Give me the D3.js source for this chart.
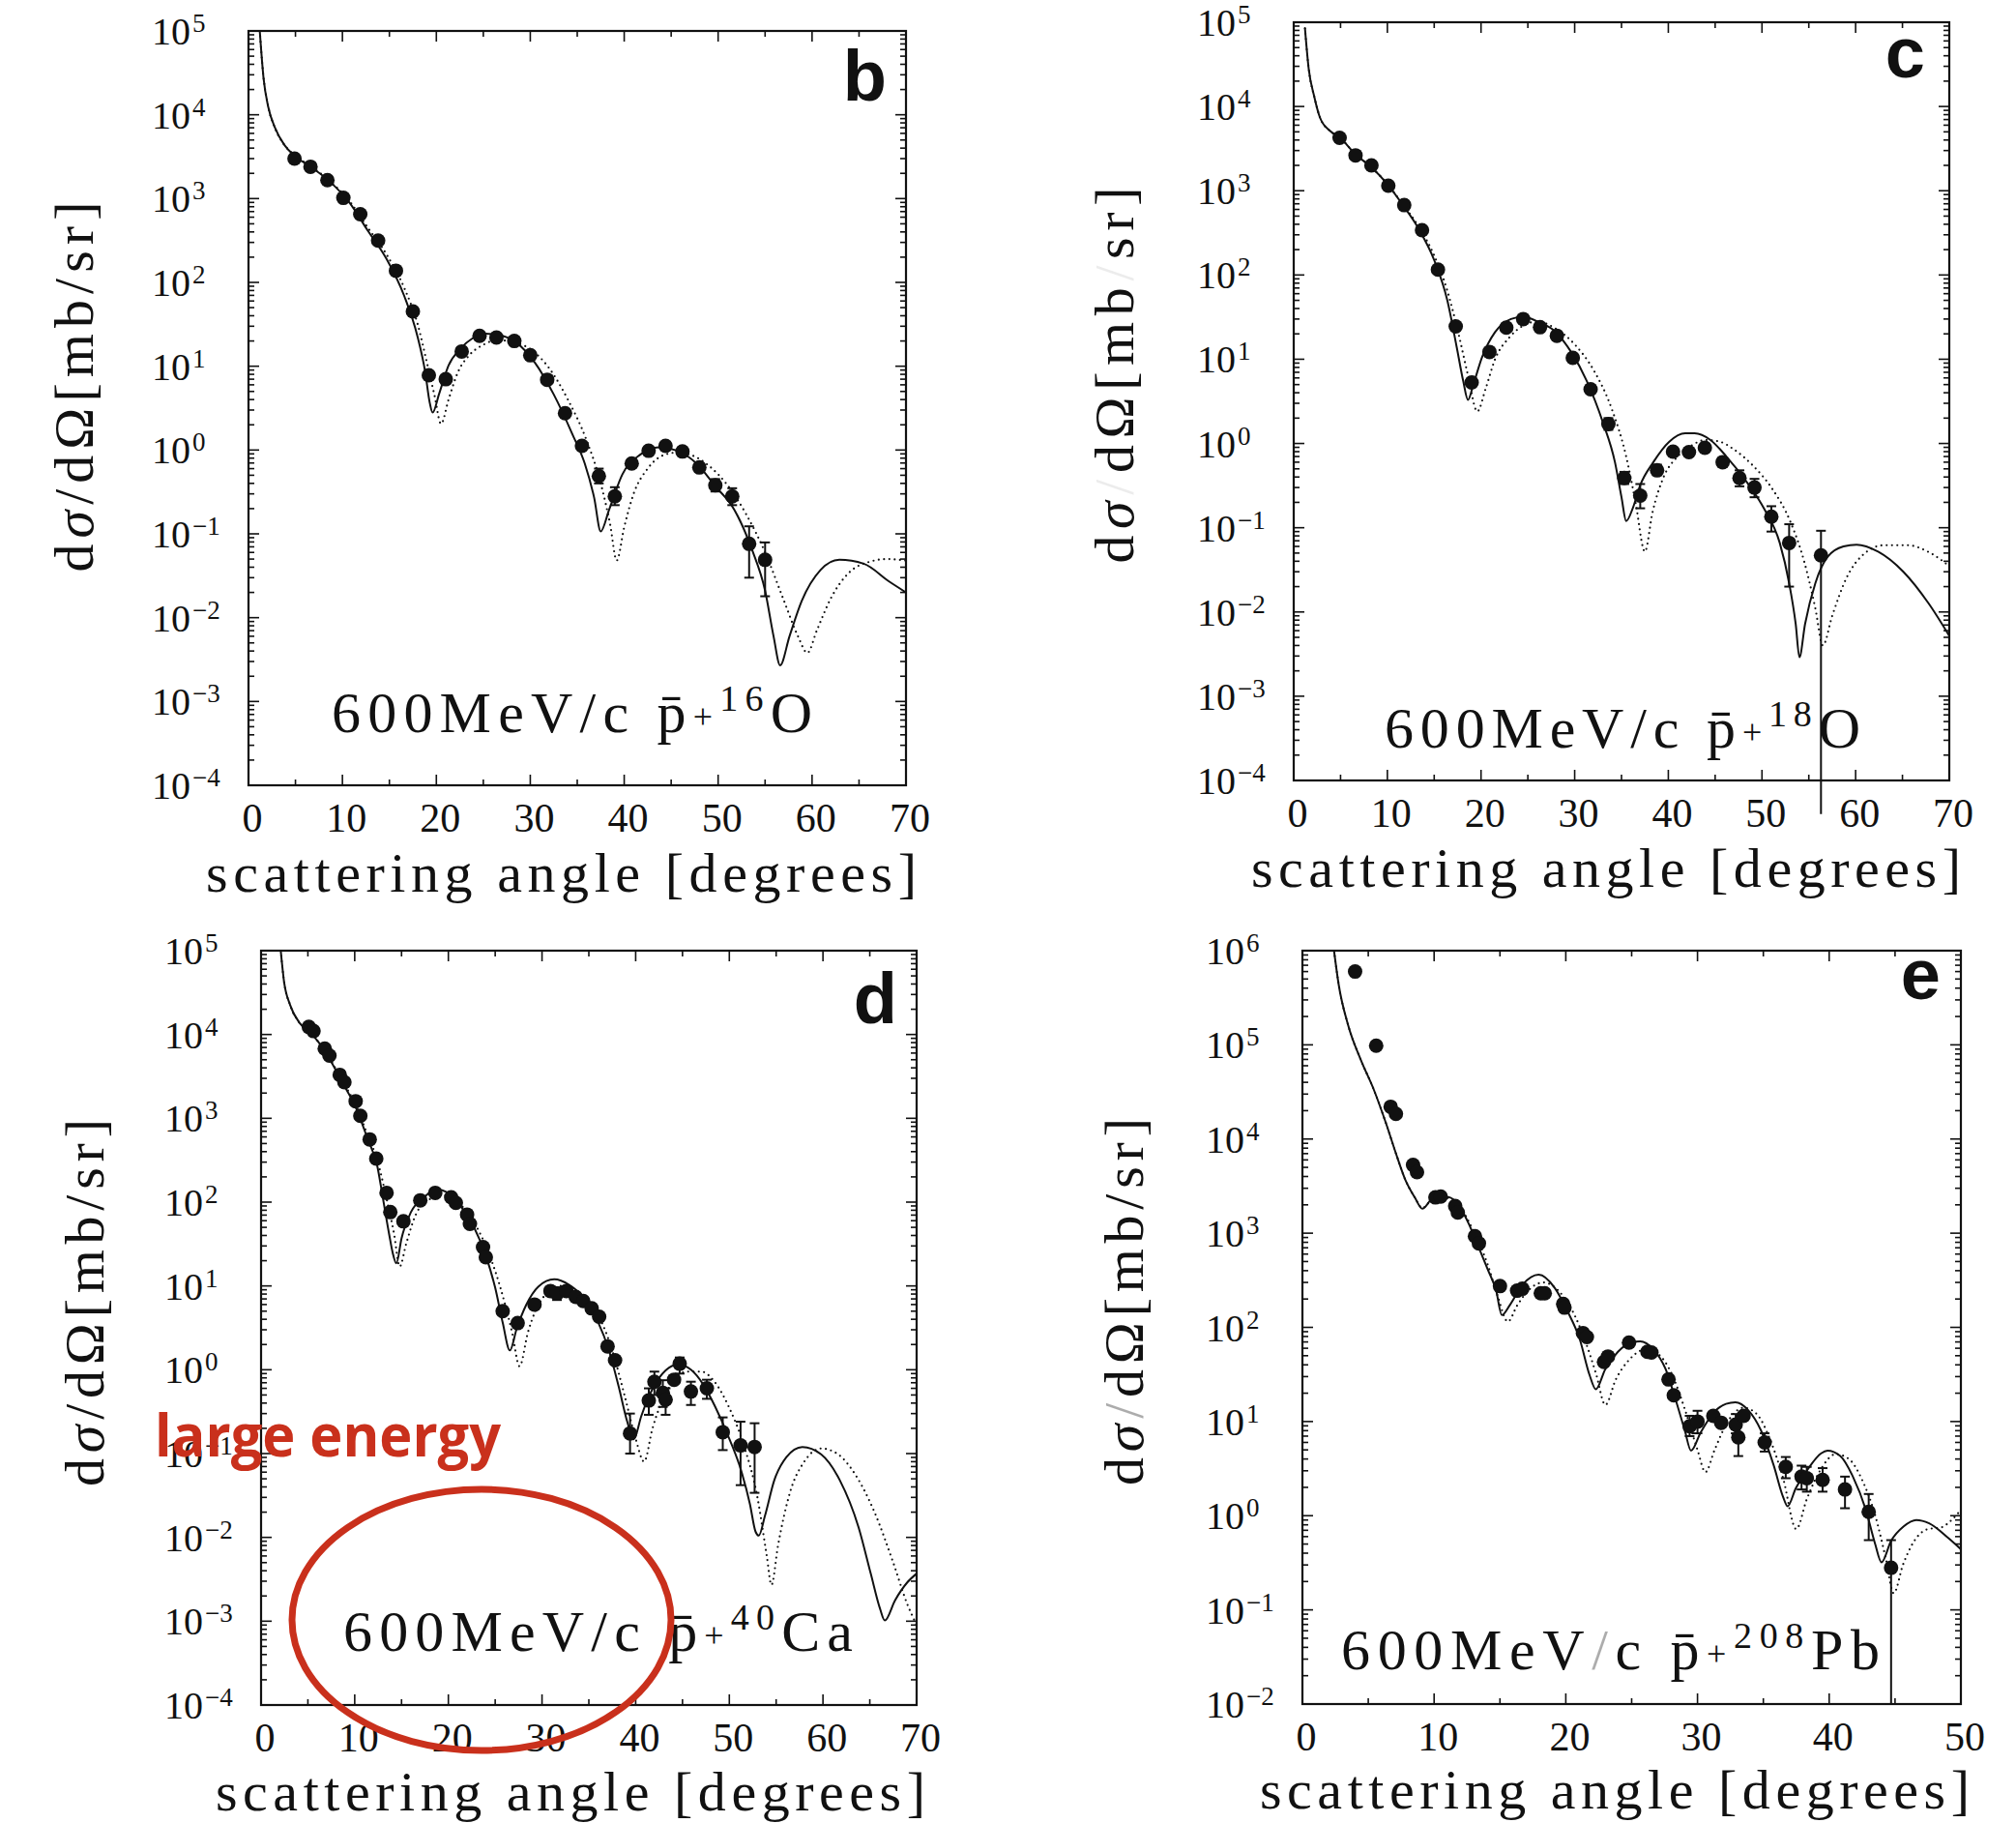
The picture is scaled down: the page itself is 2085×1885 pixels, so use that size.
<!DOCTYPE html>
<html>
<head>
<meta charset="utf-8">
<script src="https://cdn.jsdelivr.net/npm/d3@7"></script>
<style>
  body { margin: 0; background: #fff; }
  svg { display: block; }
</style>
</head>
<body>
<svg id="fig" width="2085" height="1885"></svg>
<script>
// ---------- panel b : 600 MeV/c  pbar + 16O ----------
const bAngle = [4.9, 6.6, 8.4, 10.1, 11.9, 13.8, 15.7, 17.5, 19.2, 21.0, 22.7, 24.6, 26.4, 28.3, 30.0, 31.8, 33.7, 35.5, 37.3, 39.0, 40.8, 42.6, 44.4, 46.2, 48.0, 49.7, 51.5, 53.3, 55.0];
const bValue = [3000, 2400, 1660, 1020, 650, 316, 138, 45, 7.8, 7.0, 15, 23, 22, 20, 13.5, 6.9, 2.75, 1.12, 0.49, 0.28, 0.69, 0.98, 1.12, 0.96, 0.62, 0.38, 0.28, 0.076, 0.049];
const bErrAngle = [37.3, 39.0, 49.7, 51.5, 53.3, 55.0];
const bErrLo = [0.40, 0.22, 0.32, 0.22, 0.030, 0.018];
const bErrHi = [0.60, 0.36, 0.45, 0.35, 0.123, 0.079];
const bSolidAngle = [1.2, 1.6, 2.1, 2.8, 3.8, 4.9, 6.7, 8.7, 10.7, 12.7, 14.7, 16.6, 18.0, 18.8, 19.3, 19.6, 20.3, 21.3, 22.6, 23.9, 25.2, 26.6, 28.5, 30.5, 32.5, 34.5, 35.8, 36.8, 37.5, 38.4, 39.8, 41.7, 43.7, 45.7, 47.7, 49.7, 51.7, 53.6, 55.0, 55.9, 56.6, 57.6, 58.9, 60.9, 62.9, 65.5, 68.2, 70];
const bSolidValue = [1e5, 2.75e4, 1.24e4, 7.1e3, 4.4e3, 3.25e3, 2.36e3, 1.58e3, 910, 415, 190, 68, 22.5, 8.7, 3.65, 2.8, 4.7, 10.2, 16.3, 21.7, 24.5, 23.7, 19.2, 11, 4.6, 1.53, 0.69, 0.27, 0.107, 0.195, 0.51, 0.88, 1.08, 0.98, 0.69, 0.37, 0.196, 0.065, 0.021, 0.006, 0.0027, 0.006, 0.0158, 0.037, 0.049, 0.044, 0.027, 0.020];
const bDotAngle = [1.2, 1.6, 2.1, 2.8, 3.8, 4.9, 6.7, 8.7, 10.7, 12.7, 14.7, 16.6, 18.0, 19.0, 19.8, 20.5, 21.3, 22.3, 23.5, 25.0, 26.5, 28.0, 30.0, 32.0, 34.0, 36.0, 37.5, 38.5, 39.2, 40.0, 41.0, 42.5, 44.0, 45.5, 47.0, 49.0, 51.0, 53.0, 55.0, 57.0, 58.5, 59.5, 60.5, 62.0, 64.0, 66.0, 68.0, 70.0];
const bDotValue = [1e5, 2.8e4, 1.25e4, 7e3, 4.4e3, 3.3e3, 2.4e3, 1.6e3, 950, 450, 215, 85, 32, 11, 4.5, 2.05, 4, 8.5, 13.5, 18, 20.5, 19.5, 16, 9.5, 4, 1.3, 0.4, 0.13, 0.048, 0.12, 0.3, 0.6, 0.85, 0.93, 0.88, 0.65, 0.38, 0.17, 0.06, 0.016, 0.006, 0.0038, 0.007, 0.017, 0.035, 0.046, 0.05, 0.048];

// ---------- panel c : 600 MeV/c  pbar + 18O ----------
const cAngle = [4.9, 6.6, 8.3, 10.1, 11.8, 13.7, 15.4, 17.3, 19.0, 20.9, 22.7, 24.5, 26.3, 28.1, 29.8, 31.7, 33.6, 35.3, 37.0, 38.8, 40.5, 42.2, 43.9, 45.8, 47.6, 49.2, 51.0, 52.9, 56.3];
const cValue = [4250, 2630, 2000, 1150, 675, 340, 116, 24.5, 5.3, 12.2, 23.7, 30, 24, 19, 10.4, 4.4, 1.7, 0.39, 0.24, 0.48, 0.8, 0.79, 0.89, 0.60, 0.39, 0.30, 0.135, 0.066, 0.047];
const cErrAngle = [33.6, 35.3, 37.0, 38.8, 45.8, 47.6, 49.2, 51.0, 52.9, 56.3];
const cErrLo = [1.45, 0.33, 0.17, 0.42, 0.53, 0.31, 0.23, 0.09, 0.02, 4e-5];
const cErrHi = [2.0, 0.46, 0.33, 0.56, 0.68, 0.48, 0.38, 0.18, 0.11, 0.092];
const cSolidAngle = [1.2, 1.6, 2.2, 2.8, 3.9, 4.9, 6.6, 8.3, 10.0, 11.6, 13.3, 15.0, 16.4, 17.4, 18.1, 18.6, 19.2, 20.1, 21.5, 23.2, 24.5, 26.2, 27.9, 29.6, 31.3, 33.0, 34.3, 35.0, 35.5, 36.2, 37.0, 38.4, 40.1, 41.8, 42.8, 44.5, 46.2, 48.2, 50.2, 51.9, 52.9, 53.6, 54.0, 54.6, 55.7, 57.0, 58.7, 60.1, 62.4, 65.1, 67.8, 70];
const cSolidValue = [8.5e4, 2.8e4, 1.3e4, 7.4e3, 5.1e3, 4.3e3, 2.7e3, 1.9e3, 1.2e3, 690, 360, 150, 50, 14, 5.5, 3.3, 5.1, 10.5, 21, 30, 32, 27.5, 21.4, 12.3, 5.5, 1.8, 0.6, 0.23, 0.12, 0.17, 0.32, 0.6, 1.05, 1.32, 1.32, 1.1, 0.7, 0.37, 0.17, 0.066, 0.022, 0.0072, 0.0029, 0.0072, 0.022, 0.045, 0.06, 0.063, 0.052, 0.03, 0.0126, 0.0052];
const cDotAngle = [1.2, 1.6, 2.2, 2.8, 3.9, 4.9, 6.6, 8.3, 10.0, 11.6, 13.3, 15.0, 16.4, 17.6, 18.6, 19.6, 20.5, 21.5, 23.0, 24.5, 26.0, 28.0, 30.0, 32.0, 34.0, 35.5, 36.5, 37.5, 38.3, 39.5, 41.0, 42.5, 44.0, 45.5, 47.0, 49.0, 51.0, 53.0, 54.5, 55.7, 56.5, 57.5, 59.0, 61.0, 63.0, 65.5, 68.0, 70];
const cDotValue = [8.5e4, 2.8e4, 1.3e4, 7.4e3, 5.1e3, 4.3e3, 2.7e3, 1.9e3, 1.2e3, 700, 380, 170, 65, 20, 6.5, 2.4, 4.5, 10, 18, 25, 28, 23, 15, 7.5, 2.5, 0.7, 0.2, 0.052, 0.15, 0.4, 0.7, 0.95, 1.1, 1.05, 0.85, 0.55, 0.3, 0.12, 0.04, 0.011, 0.004, 0.009, 0.025, 0.05, 0.062, 0.062, 0.05, 0.035];

// ---------- panel d : 600 MeV/c  pbar + 40Ca ----------
const dAngle = [5.1, 5.6, 6.8, 7.3, 8.4, 8.9, 10.1, 10.6, 11.6, 12.3, 13.4, 13.8, 15.2, 17.0, 18.6, 20.3, 20.8, 22.0, 22.3, 23.7, 24.0, 25.8, 27.4, 29.2, 30.9, 31.6, 32.6, 33.6, 34.4, 35.3, 36.1, 37.0, 37.8, 39.4, 41.4, 42.0, 42.9, 43.2, 44.1, 44.7, 45.9, 47.6, 49.3, 51.2, 52.7];
const dValue = [12300, 11000, 6800, 5600, 3300, 2700, 1600, 1070, 560, 330, 129, 76, 59, 105, 129, 114, 98, 71, 55, 29, 22, 5.0, 3.6, 6.0, 8.7, 8.1, 8.7, 7.4, 6.6, 5.4, 4.3, 1.9, 1.3, 0.174, 0.43, 0.72, 0.53, 0.44, 0.76, 1.18, 0.55, 0.60, 0.18, 0.125, 0.12];
const dErrAngle = [31.6, 39.4, 41.4, 42.0, 42.9, 43.2, 44.7, 45.9, 47.6, 49.3, 51.2, 52.7];
const dErrLo = [6.8, 0.10, 0.29, 0.50, 0.36, 0.29, 0.90, 0.38, 0.45, 0.11, 0.042, 0.034];
const dErrHi = [9.6, 0.30, 0.60, 0.95, 0.75, 0.60, 1.40, 0.72, 0.76, 0.27, 0.24, 0.23];
const dSolidAngle = [2.1, 2.45, 3.1, 4.1, 5.1, 6.1, 7.4, 8.75, 10.1, 11.4, 12.4, 13.05, 13.7, 14.05, 14.45, 15.0, 16.0, 17.4, 18.7, 20.0, 21.3, 22.7, 24.0, 25.0, 25.8, 26.57, 27.3, 28.3, 29.6, 31.3, 32.9, 34.6, 35.9, 37.2, 38.2, 39.1, 39.8, 40.6, 41.9, 43.2, 44.5, 45.9, 47.2, 48.5, 49.8, 51.2, 52.2, 52.8, 53.15, 53.8, 54.8, 56.1, 57.8, 59.8, 61.8, 63.8, 65.1, 66.1, 66.6, 67.7, 69.0, 70.0];
const dSolidValue = [1e5, 4.3e4, 2.25e4, 1.38e4, 1.1e4, 8.2e3, 4.9e3, 2.6e3, 1.36e3, 560, 273, 105, 40, 25, 18.6, 37, 76, 114, 141, 129, 90, 51, 23, 9.5, 3.65, 1.7, 3.1, 5.9, 9.8, 12, 10.3, 6.9, 3.9, 1.63, 0.62, 0.24, 0.148, 0.28, 0.62, 0.98, 1.15, 1.0, 0.67, 0.36, 0.17, 0.066, 0.025, 0.0117, 0.0105, 0.018, 0.048, 0.091, 0.12, 0.098, 0.048, 0.0132, 0.0037, 0.0014, 0.00102, 0.00178, 0.0029, 0.0037];
const dDotAngle = [2.1, 2.45, 3.1, 4.1, 5.1, 6.1, 7.4, 8.75, 10.1, 11.4, 12.4, 13.4, 14.2, 14.8, 15.5, 16.5, 18.0, 19.5, 21.0, 22.5, 24.0, 25.5, 26.8, 27.6, 28.5, 30.0, 32.0, 34.0, 36.0, 37.5, 38.8, 40.0, 40.9, 41.8, 43.5, 45.5, 47.0, 48.5, 50.0, 51.5, 53.0, 54.0, 54.5, 55.2, 56.5, 58.0, 59.8, 61.5, 63.5, 65.5, 67.5, 69.0, 70.0];
const dDotValue = [1e5, 4.3e4, 2.25e4, 1.38e4, 1.1e4, 8.2e3, 5e3, 2.7e3, 1.45e3, 620, 320, 110, 42, 17, 32, 70, 108, 120, 100, 63, 30, 10, 2.8, 1.1, 2.8, 7, 10, 8, 4.5, 1.7, 0.5, 0.15, 0.08, 0.2, 0.6, 0.95, 0.95, 0.7, 0.35, 0.13, 0.03, 0.006, 0.0027, 0.008, 0.035, 0.08, 0.115, 0.1, 0.055, 0.02, 0.005, 0.0016, 0.0009];

// ---------- panel e : 600 MeV/c  pbar + 208Pb ----------
const eAngle = [4.0, 5.6, 6.7, 7.1, 8.4, 8.7, 10.1, 10.5, 11.6, 11.8, 13.1, 13.4, 15.0, 16.3, 16.7, 18.1, 18.4, 19.8, 19.9, 21.3, 21.6, 22.9, 23.2, 24.8, 26.2, 26.5, 27.8, 28.2, 29.4, 30.0, 31.2, 31.8, 32.9, 33.1, 33.5, 35.1, 36.7, 37.9, 38.3, 39.5, 41.2, 43.0, 44.7];
const eValue = [6.0e5, 9.8e4, 2.2e4, 1.85e4, 5300, 4450, 2400, 2450, 1940, 1660, 930, 780, 274, 245, 257, 230, 230, 177, 162, 87, 79, 43, 49, 69, 55, 54, 28, 19, 8.9, 10, 11.5, 9.7, 9.3, 6.8, 11.5, 6.0, 3.3, 2.6, 2.5, 2.4, 1.9, 1.1, 0.28];
const eErrAngle = [29.4, 30.0, 32.9, 33.1, 35.1, 36.7, 37.9, 38.3, 39.5, 41.2, 43.0, 44.7];
const eErrLo = [7.0, 7.5, 7.5, 4.3, 4.8, 2.5, 1.9, 1.8, 1.8, 1.2, 0.55, 0.01];
const eErrHi = [11.5, 13, 12, 10, 7.5, 4.2, 3.4, 3.3, 3.2, 2.6, 1.7, 0.55];
const eSolidAngle = [2.4, 2.75, 3.47, 4.44, 5.4, 6.36, 7.09, 7.81, 8.53, 9.11, 9.74, 10.46, 11.19, 11.91, 12.63, 13.36, 14.08, 14.71, 15.14, 15.77, 16.73, 17.94, 19.14, 20.11, 21.07, 21.79, 22.28, 23.0, 23.96, 24.93, 25.65, 26.62, 27.58, 28.3, 29.03, 29.51, 30.23, 31.2, 32.16, 32.88, 33.85, 34.81, 35.78, 36.5, 36.84, 37.46, 38.43, 39.39, 39.87, 40.84, 41.8, 42.77, 43.49, 43.97, 44.7, 45.66, 46.62, 47.59, 49.04, 50];
const eSolidValue = [1e6, 4.4e5, 1.62e5, 6.9e4, 3.4e4, 1.45e4, 7.1e3, 3.7e3, 2.4e3, 1.82e3, 2.24e3, 2.5e3, 2.4e3, 1.95e3, 1.26e3, 720, 410, 245, 135, 174, 285, 363, 265, 150, 74, 31.6, 22, 36, 55, 69, 71, 59, 36, 17.8, 8.1, 4.9, 7.6, 12.3, 15.4, 16, 13.2, 8.1, 3.45, 1.58, 1.26, 1.95, 3.2, 4.6, 4.9, 4.3, 2.6, 1.17, 0.5, 0.32, 0.54, 0.77, 0.9, 0.83, 0.58, 0.44];
const eDotAngle = [2.4, 2.75, 3.47, 4.44, 5.4, 6.36, 7.09, 7.81, 8.53, 9.11, 9.74, 10.5, 11.2, 11.9, 12.6, 13.4, 14.1, 14.8, 15.6, 16.3, 17.2, 18.3, 19.5, 20.5, 21.5, 22.3, 23.0, 23.8, 24.8, 26.0, 27.0, 28.0, 29.0, 30.0, 30.6, 31.3, 32.3, 33.5, 34.5, 35.5, 36.5, 37.5, 38.3, 39.3, 40.5, 41.5, 42.5, 43.5, 44.3, 44.9, 45.6, 46.5, 47.5, 48.5, 49.3, 50];
const eDotValue = [1e6, 4.4e5, 1.62e5, 6.9e4, 3.4e4, 1.45e4, 7.1e3, 3.7e3, 2.4e3, 1.85e3, 2.2e3, 2.4e3, 2.35e3, 2e3, 1.35e3, 800, 450, 220, 115, 170, 250, 300, 240, 150, 70, 32, 15, 28, 45, 58, 52, 33, 14, 5, 2.9, 5, 10, 14, 12, 6.5, 2.5, 0.72, 1.5, 3, 4.5, 4, 2.4, 1.0, 0.35, 0.15, 0.3, 0.55, 0.72, 0.75, 0.9, 1.15];

// ---------- axis tick labels ----------
const xTicks70 = [0, 10, 20, 30, 40, 50, 60, 70];
const xTicks50 = [0, 10, 20, 30, 40, 50];
const yExp9 = [5, 4, 3, 2, 1, 0, -1, -2, -3, -4];
const yExp6 = [6, 5, 4, 3, 2, 1, 0, -1, -2];

// ---------- figure layout ----------
const panels = [
  { tag: "b", x0: 257, x1: 937, y0: 32, y1: 812, xDomain: [0, 70], yDomain: [1e-4, 1e5], xTicks: xTicks70, yExp: yExp9,
    angle: bAngle, value: bValue, errA: bErrAngle, errLo: bErrLo, errHi: bErrHi,
    solidA: bSolidAngle, solidV: bSolidValue, dotA: bDotAngle, dotV: bDotValue,
    target: "16", targetSym: "O", plus: "+",
    ann: { x: 343, y: 757, len: 497 }, letter: { x: 917, y: 104 },
    ylab: { x: 96, y: 400, len: 383, faint: [1, 1] }, xlab: { x: 213, y: 922, len: 735 } },
  { tag: "c", x0: 1338, x1: 2016, y0: 23, y1: 807, xDomain: [0, 70], yDomain: [1e-4, 1e5], xTicks: xTicks70, yExp: yExp9,
    angle: cAngle, value: cValue, errA: cErrAngle, errLo: cErrLo, errHi: cErrHi,
    solidA: cSolidAngle, solidV: cSolidValue, dotA: cDotAngle, dotV: cDotValue,
    target: "18", targetSym: "O", plus: "+",
    ann: { x: 1432, y: 773, len: 492 }, letter: { x: 1991, y: 80 },
    ylab: { x: 1172, y: 388, len: 389, faint: [0.08, 0.08] }, xlab: { x: 1294, y: 917, len: 734 } },
  { tag: "d", x0: 270, x1: 948, y0: 983, y1: 1763, xDomain: [0, 70], yDomain: [1e-4, 1e5], xTicks: xTicks70, yExp: yExp9,
    angle: dAngle, value: dValue, errA: dErrAngle, errLo: dErrLo, errHi: dErrHi,
    solidA: dSolidAngle, solidV: dSolidValue, dotA: dDotAngle, dotV: dDotValue,
    target: "40", targetSym: "Ca", plus: "+",
    ann: { x: 355, y: 1707, len: 527 }, letter: { x: 928, y: 1058 },
    ylab: { x: 107, y: 1347, len: 380, faint: [1, 1] }, xlab: { x: 223, y: 1872, len: 734 } },
  { tag: "e", x0: 1347, x1: 2028, y0: 983, y1: 1762, xDomain: [0, 50], yDomain: [1e-2, 1e6], xTicks: xTicks50, yExp: yExp6,
    angle: eAngle, value: eValue, errA: eErrAngle, errLo: eErrLo, errHi: eErrHi,
    solidA: eSolidAngle, solidV: eSolidValue, dotA: eDotAngle, dotV: eDotValue,
    target: "208", targetSym: "Pb", plus: "+",
    ann: { x: 1387, y: 1726, len: 557 }, letter: { x: 2007, y: 1033 },
    ylab: { x: 1182, y: 1346, len: 380, faint: [0.35, 1] }, xlab: { x: 1303, y: 1870, len: 734 } }
];

const svg = d3.select("#fig");
const serif = "'Liberation Serif', 'Times New Roman', serif";
const ink = "#111";
const defs = svg.append("defs");

function drawPanel(p) {
  const x = d3.scaleLinear().domain(p.xDomain).range([p.x0, p.x1]);
  const y = d3.scaleLog().domain(p.yDomain).range([p.y1, p.y0]);
  const g = svg.append("g").attr("class", "panel-" + p.tag);

  const clipId = "clip-" + p.tag;
  defs.append("clipPath").attr("id", clipId).append("rect")
    .attr("x", p.x0).attr("y", p.y0).attr("width", p.x1 - p.x0).attr("height", p.y1 - p.y0);

  // frame
  g.append("rect")
    .attr("x", p.x0).attr("y", p.y0).attr("width", p.x1 - p.x0).attr("height", p.y1 - p.y0)
    .attr("fill", "none").attr("stroke", ink).attr("stroke-width", 2.2);

  // log ticks on left and right edges
  const lo = Math.round(Math.log10(p.yDomain[0])), hi = Math.round(Math.log10(p.yDomain[1]));
  const yTickVals = [];
  for (let k = lo; k <= hi; k++) {
    yTickVals.push({ v: Math.pow(10, k), major: true });
    if (k < hi) for (let m = 2; m <= 9; m++) yTickVals.push({ v: m * Math.pow(10, k), major: false });
  }
  const ticks = g.append("g").attr("stroke", ink).attr("stroke-width", 1.6);
  yTickVals.forEach(t => {
    const len = t.major ? 11 : 6;
    ticks.append("line").attr("x1", p.x0).attr("x2", p.x0 + len).attr("y1", y(t.v)).attr("y2", y(t.v));
    ticks.append("line").attr("x1", p.x1).attr("x2", p.x1 - len).attr("y1", y(t.v)).attr("y2", y(t.v));
  });
  // linear ticks on top and bottom edges
  d3.range(p.xDomain[0], p.xDomain[1] + 0.01, 5).forEach(a => {
    const len = (a % 10 === 0) ? 11 : 6;
    ticks.append("line").attr("x1", x(a)).attr("x2", x(a)).attr("y1", p.y1).attr("y2", p.y1 - len);
    ticks.append("line").attr("x1", x(a)).attr("x2", x(a)).attr("y1", p.y0).attr("y2", p.y0 + len);
  });

  // y tick labels 10^n
  p.yExp.forEach(n => {
    const t = g.append("text")
      .attr("x", p.x0 - 100).attr("y", y(Math.pow(10, n)) + 14)
      .attr("font-family", serif).attr("font-size", 40).attr("fill", ink);
    t.append("tspan").text("10");
    t.append("tspan").attr("dx", 2).attr("dy", -13).attr("font-size", 27)
      .text(n < 0 ? "\u2212" + (-n) : String(n));
  });

  // x tick labels
  p.xTicks.forEach(a => {
    g.append("text")
      .attr("x", x(a) + 4).attr("y", p.y1 + 48)
      .attr("text-anchor", "middle")
      .attr("font-family", serif).attr("font-size", 42).attr("fill", ink)
      .text(a);
  });

  // theory curves
  const line = d3.line().x(d => x(d[0])).y(d => y(d[1])).curve(d3.curveMonotoneX);
  const curves = g.append("g").attr("clip-path", "url(#" + clipId + ")");
  curves.append("path")
    .attr("d", line(d3.zip(p.dotA, p.dotV)))
    .attr("fill", "none").attr("stroke", ink).attr("stroke-width", 2.2)
    .attr("stroke-linecap", "round").attr("stroke-dasharray", "0,5.5");
  curves.append("path")
    .attr("d", line(d3.zip(p.solidA, p.solidV)))
    .attr("fill", "none").attr("stroke", ink).attr("stroke-width", 2);

  // error bars
  const eb = g.append("g").attr("stroke", ink).attr("stroke-width", 2);
  p.errA.forEach((a, i) => {
    const xa = x(a), ylo = y(p.errLo[i]), yhi = y(p.errHi[i]);
    eb.append("line").attr("x1", xa).attr("x2", xa).attr("y1", ylo).attr("y2", yhi);
    eb.append("line").attr("x1", xa - 5).attr("x2", xa + 5).attr("y1", yhi).attr("y2", yhi);
    if (p.errLo[i] >= p.yDomain[0]) eb.append("line").attr("x1", xa - 5).attr("x2", xa + 5).attr("y1", ylo).attr("y2", ylo);
  });

  // measured points
  g.append("g").selectAll("circle")
    .data(d3.zip(p.angle, p.value))
    .join("circle")
    .attr("cx", d => x(d[0])).attr("cy", d => y(d[1])).attr("r", 7.5)
    .attr("fill", ink);

  // reaction annotation
  const ann = g.append("text")
    .attr("x", p.ann.x).attr("y", p.ann.y)
    .attr("font-family", serif).attr("font-size", 60).attr("fill", ink)
    .attr("textLength", p.ann.len).attr("lengthAdjust", "spacing");
  ann.append("tspan").text("600MeV");
  ann.append("tspan").attr("fill-opacity", p.tag === "e" ? 0.35 : 1).text("/");
  ann.append("tspan").text("c  p\u0304");
  ann.append("tspan").attr("font-size", 36).attr("dy", -4).text(p.plus);
  ann.append("tspan").attr("font-size", 38).attr("dy", -18).text(p.target);
  ann.append("tspan").attr("dy", 22).text(p.targetSym);

  // panel letter
  g.append("text")
    .attr("x", p.letter.x).attr("y", p.letter.y).attr("text-anchor", "end")
    .attr("font-family", "'Liberation Sans', Arial, sans-serif").attr("font-weight", "bold")
    .attr("font-size", 74).attr("fill", ink).text(p.tag);

  // y axis title
  const yl = g.append("text")
    .attr("transform", `translate(${p.ylab.x},${p.ylab.y}) rotate(-90)`)
    .attr("text-anchor", "middle")
    .attr("font-family", serif).attr("font-size", 58).attr("fill", ink)
    .attr("textLength", p.ylab.len).attr("lengthAdjust", "spacing");
  yl.append("tspan").text("d");
  yl.append("tspan").attr("font-style", "italic").text("\u03C3");
  yl.append("tspan").attr("fill-opacity", p.ylab.faint[0]).text("/");
  yl.append("tspan").text("d\u03A9[mb");
  yl.append("tspan").attr("fill-opacity", p.ylab.faint[1]).text("/");
  yl.append("tspan").text("sr]");

  // x axis title
  g.append("text")
    .attr("x", p.xlab.x).attr("y", p.xlab.y)
    .attr("font-family", serif).attr("font-size", 58).attr("fill", ink)
    .attr("textLength", p.xlab.len).attr("lengthAdjust", "spacing")
    .text("scattering angle [degrees]");
}

panels.forEach(drawPanel);

// red highlight on the 40Ca panel
const red = "#c9301c";
svg.append("text")
  .attr("x", 160).attr("y", 1506)
  .attr("font-family", "'Open Sans', 'Noto Sans', sans-serif").attr("font-weight", "bold")
  .attr("font-size", 60).attr("fill", red)
  .attr("textLength", 358).attr("lengthAdjust", "spacingAndGlyphs")
  .text("large energy");
svg.append("ellipse")
  .attr("cx", 498).attr("cy", 1675).attr("rx", 196).attr("ry", 135)
  .attr("fill", "none").attr("stroke", red).attr("stroke-width", 7);
</script>
</body>
</html>
